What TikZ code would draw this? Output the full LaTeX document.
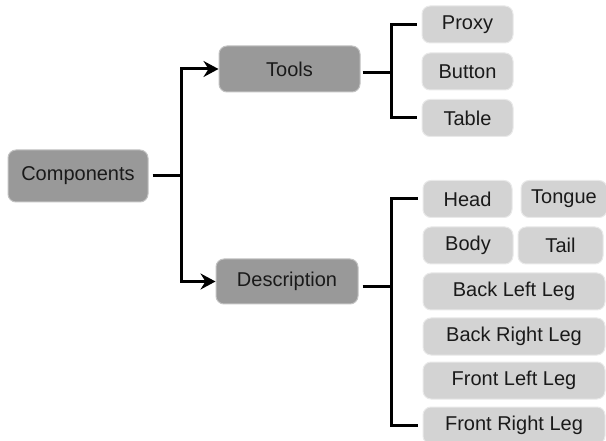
\documentclass[tikz,border=0pt]{standalone}
\usepackage{fontspec}
\setmainfont{Liberation Sans}
\usetikzlibrary{arrows.meta}
\definecolor{darkbox}{HTML}{999999}
\definecolor{lightbox}{HTML}{D3D3D3}
\definecolor{labeltext}{HTML}{1A1A1A}

\begin{document}
\begin{tikzpicture}[x=1pt, y=-1pt,
    box/.style = {rounded corners=8pt, inner sep=0pt, text=labeltext,
                  font=\fontsize{20}{23}\selectfont},
    topic/.style = {box, fill=darkbox, draw=darkbox!60, line width=1pt},
    part/.style = {box, fill=lightbox, draw=lightbox!50, line width=1pt,
                   minimum height=37pt},
    link/.style = {line width=3pt, draw=black},
    tip/.style = {-{Stealth[length=15pt, width=16pt, inset=5pt]}}]
\useasboundingbox (0,0) rectangle (606,441);

\node[topic, minimum width=140pt, minimum height=52pt] (comp) at (78,176) {Components};
\node[topic, minimum width=141pt, minimum height=46pt] (tools) at (289.5,69) {Tools};
\node[topic, minimum width=142pt, minimum height=45pt] (desc) at (287,281.5) {Description};

\node[part, minimum width=91pt] (proxy)  at (467.5,24.5) {Proxy};
\node[part, minimum width=91pt] (button) at (467.5,71.5) {Button};
\node[part, minimum width=91pt] (table)  at (467.5,118)  {Table};

\node[part, minimum width=89pt] (head)   at (467.5,199) {Head};
\node[part, minimum width=86pt] (tongue) at (564,199)   {Tongue};
\node[part, minimum width=90pt] (body)   at (468,245.5) {Body};
\node[part, minimum width=85pt] (tail)   at (560.5,245.5) {Tail};
\node[part, minimum width=182pt] (backleft)   at (514,291.5) {Back Left Leg};
\node[part, minimum width=182pt] (backright)  at (514,336.5) {Back Right Leg};
\node[part, minimum width=182pt] (frontleft)  at (514,380.5) {Front Left Leg};
\node[part, minimum width=182pt] (frontright) at (514,425.5) {Front Right Leg};

\coordinate (fork) at (181,176);
\coordinate (toolsfork) at (391,73);
\coordinate (descfork) at (391,287);

\draw[link, shorten <=4pt] (comp.east) -- (fork);
\draw[link, tip] (fork) |- (tools);
\draw[link, tip] (fork) |- (desc);

\draw[link, shorten <=2pt] (tools.east |- toolsfork) -- (toolsfork);
\draw[link] ([xshift=-5pt]proxy.west) -| (toolsfork) |- ([xshift=-5pt]table.west);

\draw[link, shorten <=4pt] (desc.east |- descfork) -- (descfork);
\draw[link] ([xshift=-5pt]head.west) -| (descfork) |- ([xshift=-5pt]frontright.west);
\end{tikzpicture}
\end{document}
